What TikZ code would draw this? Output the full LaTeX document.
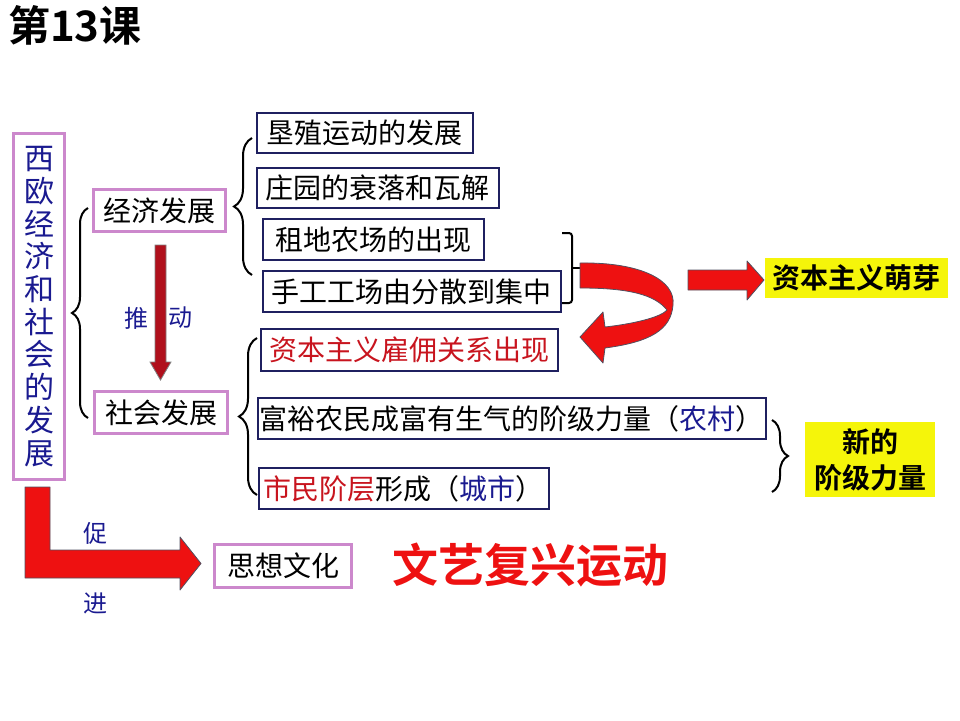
\documentclass[tikz,border=0pt]{standalone}
\usepackage{fontspec}
\setmainfont{Noto Sans CJK SC}[BoldFont={Noto Sans CJK SC Bold}]
\usetikzlibrary{decorations.pathreplacing}
\definecolor{navy}{HTML}{1F2060}
\definecolor{orchid}{HTML}{CC88CC}
\definecolor{tblue}{HTML}{1A1A90}
\definecolor{tred}{HTML}{C8141E}
\definecolor{ylw}{HTML}{F5F50A}
\definecolor{arrred}{HTML}{EE1111}
\definecolor{darkred}{HTML}{B0101C}
\definecolor{edgegray}{HTML}{505060}
\begin{document}
\begin{tikzpicture}[x=1pt,y=-1pt,
  nbox/.style={draw=navy,line width=1.8pt,fill=white,inner sep=0pt,anchor=north west,font=\fontsize{28}{30}\selectfont},
  pbox/.style={draw=orchid,line width=3pt,fill=white,inner sep=0pt,anchor=north west,font=\fontsize{28}{30}\selectfont},
  ybox/.style={fill=ylw,inner sep=0pt,anchor=north west,font=\fontsize{28}{36}\selectfont\bfseries,align=center},
  bracestyle/.style={decorate,decoration={brace,amplitude=#1},line width=2pt},
  bigarrow/.style={fill=arrred,draw=edgegray,line width=0.8pt,line join=round},
  lbl/.style={text=tblue,font=\fontsize{24}{26}\selectfont,inner sep=0pt}
]
\useasboundingbox (0,0) rectangle (960,720);

% title
\node[anchor=north west,inner sep=0pt,font=\fontsize{42}{44}\selectfont\bfseries] (title) at (8,5) {第13课};

% main vertical box
\node[pbox,minimum width=51pt,minimum height=346pt,text=tblue,align=center,font=\fontsize{30}{32.7}\selectfont] (main) at (12,132)
  {西\\欧\\经\\济\\和\\社\\会\\的\\发\\展};

% second level
\node[pbox,minimum width=132pt,minimum height=42pt] (econ) at (92,188) {经济发展};
\node[pbox,minimum width=133pt,minimum height=42pt] (soc) at (93,390) {社会发展};

% economic items
\node[nbox,minimum width=216pt,minimum height=40pt] (b1) at (256,112) {垦殖运动的发展};
\node[nbox,minimum width=242pt,minimum height=40pt] (b2) at (256,167) {庄园的衰落和瓦解};
\node[nbox,minimum width=221pt,minimum height=41pt] (b3) at (262,218) {租地农场的出现};
\node[nbox,minimum width=298pt,minimum height=41pt] (b4) at (262,270) {手工工场由分散到集中};

% social items
\node[nbox,minimum width=297pt,minimum height=42pt,text=tred] (s1) at (260,328) {资本主义雇佣关系出现};
\node[nbox,minimum width=508pt,minimum height=41pt] (s2) at (257,397) {富裕农民成富有生气的阶级力量（\textcolor{tblue}{农村}）};
\node[nbox,minimum width=290pt,minimum height=41pt] (s3) at (258,467) {\textcolor{tred}{市民阶层}形成（\textcolor{tblue}{城市}）};

% yellow results
\node[ybox,minimum width=183pt,minimum height=40pt] (y1) at (765,258) {资本主义萌芽};
\node[ybox,minimum width=130pt,minimum height=75pt] (y2) at (805,422) {新的\\阶级力量};

% thought and culture
\node[pbox,minimum width=137pt,minimum height=43pt] (thought) at (213,543) {思想文化};
\node[text=arrred,font=\fontsize{46}{48}\selectfont\bfseries,inner sep=0pt] (ren) at (530,565) {文艺复兴运动};

% braces
\draw[bracestyle=16pt] (88,418) -- (88,208);
\draw[bracestyle=18pt] (252,275) -- (252,138);
\draw[bracestyle=18pt] (257,495) -- (257,338);
\draw[bracestyle=16pt] (772,420) -- (772,492);

% square bracket
\coordinate (bk1) at (562,233);
\coordinate (bk2) at (562,303);
\coordinate (bkt) at (580,268);
\draw[line width=2pt,rounded corners=3pt] (bk1) -- (572,233) -- (572,303) -- (bk2);
\draw[line width=2pt] (572,268) -- (bkt);

% push arrow
\draw[fill=darkred,draw=gray,line width=0.8pt]
  (155,245) -- (166,245) -- (166,362) -- (171,362) -- (160.5,380) -- (150,362) -- (155,362) -- cycle;
\node[lbl] (tui) at (136,318) {推};
\node[lbl] (dong) at (180,318) {动};

% U-turn arrow
\draw[bigarrow]
  (580,263) .. controls (640,262) and (676,280) .. (673,305)
  .. controls (671,330) and (650,342) .. (605,348)
  -- (603,363) -- (580,337) -- (603,312) -- (605,327)
  .. controls (640,323) and (662,316) .. (667,310)
  .. controls (655,295) and (630,288) .. (580,288) -- cycle;

% right arrow
\draw[bigarrow] (688,270) -- (747,270) -- (747,261) -- (764,280) -- (747,300) -- (747,290) -- (688,290) -- cycle;

% L arrow
\draw[bigarrow] (25,487) -- (50,487) -- (50,550) -- (180,550) -- (180,537) -- (201,563.5) -- (180,590) -- (180,578) -- (25,578) -- cycle;
\node[lbl] (cu) at (95,533) {促};
\node[lbl] (jin) at (95,603) {进};

\end{tikzpicture}
\end{document}
